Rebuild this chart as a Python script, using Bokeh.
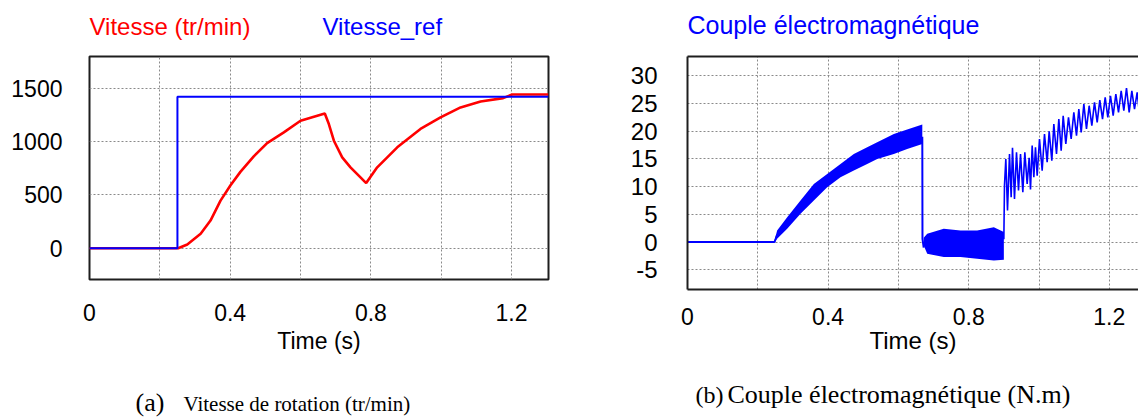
from bokeh.plotting import figure
from bokeh.layouts import row, column
from bokeh.models import Range1d, FixedTicker, LinearAxis
from bokeh.core.properties import value
from bokeh.embed import file_html
from bokeh.resources import INLINE

# ---------------- data ----------------
# (a) rotation speed (tr/min) vs time (s)
speed_t = [0.0, 0.252, 0.278, 0.316, 0.344, 0.3725, 0.401, 0.429, 0.467, 0.505,
           0.5525, 0.600, 0.669, 0.6805, 0.6948, 0.7185, 0.742, 0.7867, 0.818,
           0.875, 0.941, 0.998, 1.055, 1.112, 1.176, 1.2018, 1.305]
speed_v = [0, 0, 35, 135, 259, 446, 590, 715, 860, 985,
           1085, 1194, 1262, 1163, 1007, 851, 758, 610, 758,
           945, 1117, 1225, 1319, 1375, 1406, 1440, 1440]
ref_t = [0.0, 0.25, 0.25, 1.305]
ref_v = [0, 0, 1420, 1420]

# (b) electromagnetic torque (N.m) vs time (s)
torque_flat_t = [0.0, 0.2475, 0.255]
torque_flat_v = [0.0, 0.0, 1.3]
band1_t = [0.2475, 0.255, 0.2836, 0.3215, 0.3594, 0.3974, 0.4353, 0.4732, 0.5112,
           0.5397, 0.587, 0.625, 0.668]
band1_hi = [0.3, 2.1, 4.5, 7.5, 10.5, 12.3, 14.1, 15.9, 17.1, 18.0, 19.5, 20.3, 21.2]
band1_lo = [0.0, 0.6, 2.4, 5.1, 7.5, 9.9, 11.7, 12.9, 14.1, 15.0, 15.9, 16.8, 17.7]
drop_t = [0.668, 0.6685, 0.672]
drop_v = [19.0, 0.6, -1.0]
band2_t = [0.672, 0.682, 0.729, 0.7767, 0.824, 0.8715, 0.900]
band2_hi = [0.8, 1.5, 2.4, 2.1, 2.1, 2.7, 1.8]
band2_lo = [-0.6, -2.1, -2.7, -2.7, -3.0, -3.3, -3.2]
zig_t = [0.900, 0.9018, 0.9056, 0.9104, 0.9161, 0.9208, 0.9246, 0.9303, 0.936, 0.9417,
         0.9474, 0.954, 0.9597, 0.9663, 0.972, 0.9758, 0.9806, 0.9853, 0.990, 0.9948,
         1.0014, 1.009, 1.0156, 1.0232, 1.0289, 1.0365, 1.0422, 1.0498, 1.0564, 1.0631,
         1.0688, 1.0763, 1.0839, 1.0915, 1.0991, 1.1067, 1.1133, 1.120, 1.1276, 1.1351,
         1.1427, 1.1503, 1.1579, 1.1655, 1.173, 1.1807, 1.1883, 1.1958, 1.2034, 1.211,
         1.2186, 1.2262, 1.2338, 1.2413, 1.2489, 1.2565, 1.2641, 1.2717, 1.2793, 1.2859]
zig_v = [0.5, 10.2, 15.0, 5.7, 15.9, 8.1, 17.0, 7.8, 16.2, 9.3,
         15.9, 9.0, 16.2, 10.5, 15.2, 9.5, 17.4, 11.7, 17.1, 12.0,
         18.6, 12.9, 19.5, 14.4, 20.0, 14.7, 21.3, 15.9, 22.2, 16.5,
         22.8, 17.7, 22.5, 18.6, 23.4, 19.2, 24.0, 19.8, 24.9, 20.4,
         24.6, 21.0, 25.2, 21.6, 25.6, 22.2, 26.1, 22.5, 26.4, 22.8,
         26.7, 23.4, 27.3, 23.7, 27.8, 23.4, 27.3, 24.0, 27.0, 23.1]

# ticks / labels
x_tick_values = [0, 0.4, 0.8, 1.2]
x_tick_labels = ["0", "0.4", "0.8", "1.2"]
x_grid_values = [0.2, 0.4, 0.6, 0.8, 1.0, 1.2]
speed_ticks = [0, 500, 1000, 1500]
speed_tick_labels = ["0", "500", "1000", "1500"]
torque_ticks = [-5, 0, 5, 10, 15, 20, 25, 30]
torque_tick_labels = ["-5", "0", "5", "10", "15", "20", "25", "30"]

speed_title = "Vitesse (tr/min)"
ref_title = "Vitesse_ref"
torque_title = "Couple électromagnétique"
x_label = "Time (s)"
caption_a_tag, caption_a = "(a)", "Vitesse de rotation (tr/min)"
caption_b_tag, caption_b = "(b)", "Couple électromagnétique (N.m)"

# ---------------- styles ----------------
SANS = "Liberation Sans"
SERIF = "Liberation Serif"
RED = "#ff0000"
BLUE = "#0000ff"
FRAME = "#1e1e1e"
GRID = "#8a8a8a"
PAGE_W = 1138


def style_axes(p, yticks, ylabels, ytick_size, xtick_size, xlabel_size, y_standoff,
               x_standoff, xlabel_standoff):
    p.xaxis.ticker = FixedTicker(ticks=x_tick_values)
    p.xaxis.major_label_overrides = dict(zip(x_tick_values, x_tick_labels))
    p.yaxis.ticker = FixedTicker(ticks=yticks)
    p.yaxis.major_label_overrides = dict(zip(yticks, ylabels))
    p.xgrid.ticker = FixedTicker(ticks=x_grid_values)
    p.ygrid.ticker = FixedTicker(ticks=yticks)
    for g in (p.xgrid, p.ygrid):
        g.grid_line_color = GRID
        g.grid_line_dash = "2 2"
        g.grid_line_width = 1
    for ax in (p.xaxis, p.yaxis):
        ax.major_tick_line_color = None
        ax.minor_tick_line_color = None
        ax.major_tick_out = 0
        ax.major_tick_in = 0
        ax.major_label_text_font = SANS
        ax.major_label_text_color = "black"
    p.yaxis.major_label_text_font_size = ytick_size
    p.yaxis.major_label_standoff = y_standoff
    p.xaxis.major_label_text_font_size = xtick_size
    p.xaxis.major_label_standoff = x_standoff
    p.xaxis.axis_label = x_label
    p.xaxis.axis_label_text_font = SANS
    p.xaxis.axis_label_text_font_size = xlabel_size
    p.xaxis.axis_label_text_font_style = "normal"
    p.xaxis.axis_label_text_color = "black"
    p.xaxis.axis_label_standoff = xlabel_standoff


def strip(height):
    s = figure(width=PAGE_W, height=height, min_border=0,
               x_range=Range1d(0, PAGE_W), y_range=Range1d(height, 0),
               x_axis_type=None, y_axis_type=None,
               output_backend="svg", toolbar_location=None)
    s.outline_line_color = None
    s.grid.visible = False
    return s


def add_text(s, x, baseline, text, font, size_px, color):
    # vertically centred text, placed so that its baseline sits at `baseline`
    s.text(x=[x], y=[baseline - 0.36 * size_px], text=[text], text_font=value(font),
           text_font_size=value(f"{size_px}px"), text_color=color,
           text_baseline="middle", text_align="left")


# ---------------- top strip (series names / title) ----------------
top = strip(45)
add_text(top, 89, 35, speed_title, SANS, 24, RED)
add_text(top, 322, 35, ref_title, SANS, 24, BLUE)
add_text(top, 687, 33, torque_title, SANS, 25, BLUE)

# ---------------- (a) speed ----------------
p1 = figure(frame_width=459, frame_height=223,
            min_border_left=89, min_border_right=52, min_border_top=11, min_border_bottom=86,
            x_range=Range1d(0, 1.305), y_range=Range1d(-293, 1796),
            output_backend="svg", toolbar_location=None)
style_axes(p1, speed_ticks, speed_tick_labels, "23px", "23px", "23px", 27, 24, 4)
p1.xaxis.axis_line_color = None
p1.yaxis.axis_line_color = None
p1.outline_line_color = FRAME
p1.outline_line_width = 2
p1.outline_line_alpha = 1.0

p1.line(speed_t, speed_v, color=RED, line_width=2.6)
p1.line(ref_t, ref_v, color=BLUE, line_width=2)

# ---------------- (b) torque ----------------
p2 = figure(frame_width=PAGE_W - 687, frame_height=233,
            min_border_left=87, min_border_right=0, min_border_top=8, min_border_bottom=79,
            x_range=Range1d(0, (PAGE_W - 687) / 351.5), y_range=Range1d(-8.55, 33.48),
            output_backend="svg", toolbar_location=None)
style_axes(p2, torque_ticks, torque_tick_labels, "24px", "23px", "24px", 30, 18, -1)
p2.outline_line_color = None
for ax in (p2.xaxis, p2.yaxis):
    ax.axis_line_color = FRAME
    ax.axis_line_width = 2
top_axis = LinearAxis(ticker=FixedTicker(ticks=[]), major_tick_line_color=None,
                      minor_tick_line_color=None, major_tick_out=0, major_tick_in=0,
                      major_label_text_color=None, major_label_standoff=0,
                      axis_line_color=FRAME, axis_line_width=2)
p2.add_layout(top_axis, "above")

p2.line(torque_flat_t, torque_flat_v, color=BLUE, line_width=2)
p2.varea(x=band1_t, y1=band1_lo, y2=band1_hi, fill_color=BLUE)
p2.line(drop_t, drop_v, color=BLUE, line_width=2)
p2.varea(x=band2_t, y1=band2_lo, y2=band2_hi, fill_color=BLUE)
p2.line(zig_t, zig_v, color=BLUE, line_width=1.6)

# ---------------- bottom strip (captions) ----------------
bottom = strip(52)
add_text(bottom, 135, 46, caption_a_tag, SERIF, 26, "black")
add_text(bottom, 183, 46, caption_a, SERIF, 21, "black")
add_text(bottom, 695, 38, caption_b_tag, SERIF, 24, "black")
add_text(bottom, 727, 38, caption_b, SERIF, 26, "black")

layout = column(top, row(p1, p2), bottom)
open("out.html", "w").write(file_html(layout, INLINE))
